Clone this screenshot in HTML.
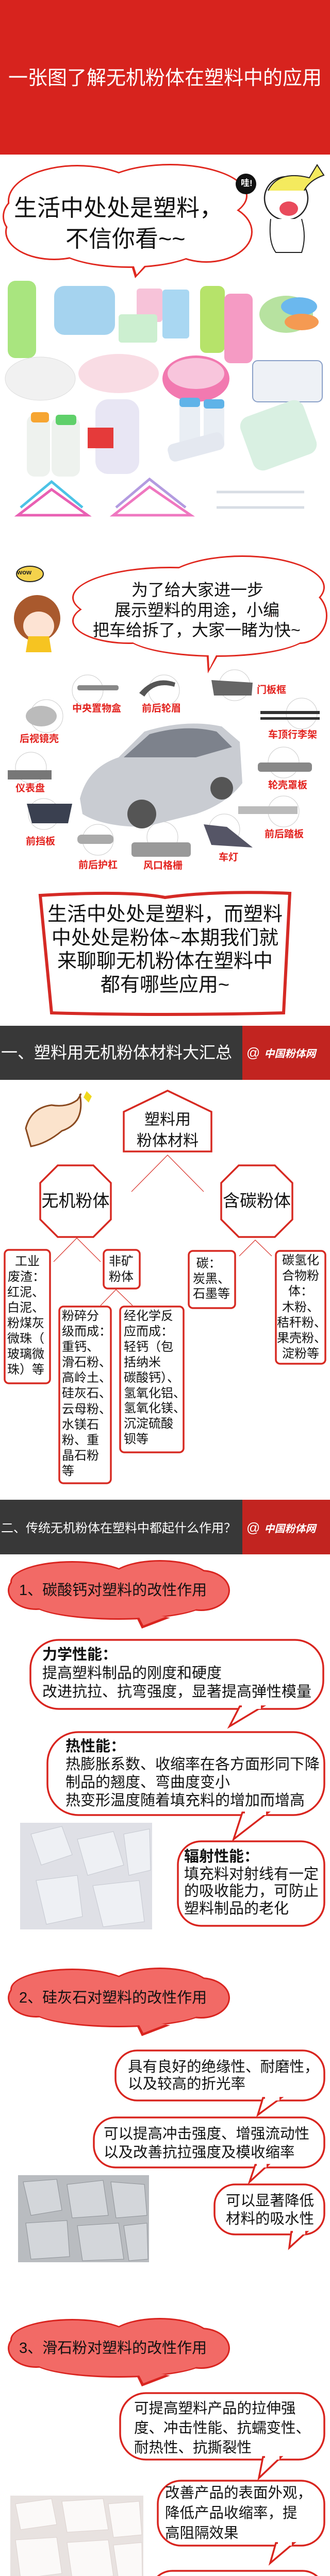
<!DOCTYPE html>
<html><head><meta charset="utf-8">
<style>
*{margin:0;padding:0;box-sizing:border-box}
html{width:640px;height:5161px;overflow:hidden}
body{width:640px;height:5161px;position:relative;background:#fff;overflow:hidden;font-family:"Liberation Sans","Noto Sans CJK SC",sans-serif;color:#111}
.t{position:absolute;white-space:nowrap}
svg{position:absolute;left:0;top:0}
.lbl{position:absolute;white-space:nowrap;color:#e3231f;font-weight:bold;font-size:19px;line-height:22px}
</style></head><body>
<svg width="640" height="5161" viewBox="0 0 640 5161">
<rect x="0" y="0" width="640" height="300" fill="#d7231e"/>
<g fill="#e0281f">
<ellipse cx="150" cy="390" rx="135" ry="70"/><ellipse cx="330" cy="380" rx="150" ry="62"/><ellipse cx="105" cy="450" rx="95" ry="55"/><ellipse cx="250" cy="470" rx="150" ry="50"/><ellipse cx="400" cy="450" rx="90" ry="60"/><ellipse cx="60" cy="420" rx="55" ry="45"/>
<polygon points="250,500 300,500 262,540"/>
</g>
<g fill="#fff">
<ellipse cx="150" cy="390" rx="132" ry="67"/><ellipse cx="330" cy="380" rx="147" ry="59"/><ellipse cx="105" cy="450" rx="92" ry="52"/><ellipse cx="250" cy="470" rx="147" ry="47"/><ellipse cx="400" cy="450" rx="87" ry="57"/><ellipse cx="60" cy="420" rx="52" ry="42"/>
<polygon points="254,498 296,498 265,533"/>
</g>
<circle cx="477" cy="357" r="20" fill="#111"/>
<circle cx="555" cy="385" r="42" fill="#fff" stroke="#222" stroke-width="2.5"/>
<path d="M520 370 Q540 330 600 345 L615 320 L628 340 Q600 350 590 370" fill="#f4ea5e" stroke="#222" stroke-width="2"/>
<ellipse cx="560" cy="405" rx="18" ry="14" fill="#e94b5c"/>
<path d="M525 425 Q520 470 535 490 L585 490 Q595 460 585 425" fill="#fff" stroke="#222" stroke-width="2"/>
<rect x="15" y="545" width="55" height="150" rx="15" fill="#a9e57f"/>
<rect x="105" y="555" width="118" height="95" rx="20" fill="#a5d3ef"/>
<rect x="265" y="560" width="50" height="65" rx="6" fill="#f7c3d9"/>
<rect x="315" y="562" width="52" height="95" rx="6" fill="#a9d7f2"/>
<rect x="230" y="610" width="75" height="55" rx="6" fill="#ccefd0"/>
<rect x="388" y="555" width="48" height="130" rx="12" fill="#b6e36a"/>
<rect x="435" y="570" width="55" height="135" rx="12" fill="#f59bc4"/>
<ellipse cx="555" cy="610" rx="52" ry="36" fill="#b7e2a0"/><ellipse cx="580" cy="595" rx="35" ry="18" fill="#6bb8ee"/><ellipse cx="585" cy="625" rx="33" ry="16" fill="#f59a52"/>
<ellipse cx="78" cy="735" rx="68" ry="42" fill="#f1f1f1" stroke="#ddd"/>
<ellipse cx="230" cy="725" rx="78" ry="38" fill="#f9dce4"/>
<ellipse cx="380" cy="735" rx="65" ry="45" fill="#f279b0"/><ellipse cx="380" cy="725" rx="55" ry="30" fill="#f8c5dc"/>
<rect x="490" y="700" width="135" height="80" rx="10" fill="#eef1f6" stroke="#8aa0c8" stroke-width="2"/>
<rect x="52" y="805" width="45" height="120" rx="15" fill="#eef2ee"/><rect x="100" y="810" width="55" height="115" rx="15" fill="#eef2ee"/>
<rect x="60" y="800" width="35" height="20" rx="6" fill="#f6a531"/><rect x="108" y="805" width="40" height="20" rx="6" fill="#5fd06a"/>
<rect x="185" y="775" width="85" height="145" rx="25" fill="#e8e6f4"/><rect x="170" y="830" width="50" height="40" fill="#e53a3a"/>
<rect x="348" y="775" width="40" height="95" rx="10" fill="#e9eef4"/><rect x="395" y="775" width="40" height="95" rx="10" fill="#e9eef4"/>
<rect x="348" y="772" width="40" height="18" rx="6" fill="#5fb3e8"/><rect x="395" y="775" width="40" height="18" rx="6" fill="#5fb3e8"/>
<rect x="325" y="850" width="110" height="35" rx="12" fill="#e4e8f0" transform="rotate(-15 380 867)"/>
<rect x="475" y="790" width="130" height="110" rx="20" fill="#d9f0e2" transform="rotate(-20 540 845)"/>
<g fill="none" stroke-width="5">
<path d="M35 1000 L100 950 L170 1000 Z" stroke="#e960b3"/><path d="M40 985 L100 935 L160 985" stroke="#4cc3e6"/>
<path d="M220 1000 L290 945 L370 1000 Z" stroke="#ef77c0"/><path d="M225 985 L290 930 L360 985" stroke="#b39be0"/>
<path d="M420 955 L590 955 M420 985 L590 985" stroke="#d8dde4"/>
</g>
<g fill="#e0281f">
<ellipse cx="330" cy="1160" rx="190" ry="60"/><ellipse cx="470" cy="1140" rx="160" ry="62"/><ellipse cx="250" cy="1205" rx="110" ry="45"/><ellipse cx="420" cy="1230" rx="180" ry="45"/><ellipse cx="580" cy="1195" rx="55" ry="55"/>
<polygon points="400,1260 430,1260 403,1307"/>
</g>
<g fill="#fff">
<ellipse cx="330" cy="1160" rx="187" ry="57"/><ellipse cx="470" cy="1140" rx="157" ry="59"/><ellipse cx="250" cy="1205" rx="107" ry="42"/><ellipse cx="420" cy="1230" rx="177" ry="42"/><ellipse cx="580" cy="1195" rx="52" ry="52"/>
<polygon points="404,1258 426,1258 406,1298"/>
</g>
<ellipse cx="58" cy="1114" rx="26" ry="15" fill="#f4d24c" stroke="#222" stroke-width="2"/>
<circle cx="72" cy="1200" r="45" fill="#a9592d"/>
<ellipse cx="75" cy="1215" rx="30" ry="28" fill="#fde3d3"/>
<path d="M55 1235 L95 1235 L100 1266 L50 1266Z" fill="#f6c421"/>
<g fill="none" stroke="#ccc" stroke-width="1">
<circle cx="170" cy="1340" r="30"/><circle cx="318" cy="1340" r="30"/><circle cx="455" cy="1330" r="30"/><circle cx="90" cy="1390" r="32"/><circle cx="585" cy="1385" r="30"/><circle cx="60" cy="1490" r="30"/><circle cx="550" cy="1480" r="30"/><circle cx="85" cy="1580" r="30"/><circle cx="550" cy="1575" r="30"/><circle cx="190" cy="1630" r="30"/><circle cx="315" cy="1625" r="30"/><circle cx="435" cy="1610" r="30"/>
</g>
<g fill="#555">
<rect x="150" y="1330" width="80" height="10" rx="4" fill="#888"/>
<path d="M270 1345 Q300 1310 340 1325 L338 1333 Q300 1322 280 1352Z"/>
<path d="M410 1320 L490 1325 L488 1350 L415 1350Z" fill="#666"/>
<ellipse cx="80" cy="1390" rx="30" ry="20" fill="#bbb"/>
<rect x="505" y="1380" width="115" height="6" fill="#333"/><rect x="505" y="1392" width="115" height="5" fill="#333"/>
<rect x="15" y="1495" width="85" height="18" fill="#777"/>
<rect x="500" y="1480" width="105" height="18" rx="6" fill="#888"/>
<path d="M52 1560 L140 1560 L132 1598 L62 1598Z" fill="#3a4050"/>
<rect x="462" y="1565" width="115" height="15" fill="#bbb"/>
<rect x="150" y="1620" width="70" height="18" rx="8" fill="#aaa"/>
<rect x="255" y="1635" width="115" height="28" rx="6" fill="#999"/>
<path d="M395 1600 L440 1605 L490 1645 L410 1640Z" fill="#556"/>
</g>
<path d="M155 1550 Q170 1490 230 1470 L280 1420 Q360 1395 430 1410 L465 1440 L470 1520 Q440 1560 380 1580 L280 1605 Q200 1605 160 1580Z" fill="#c9ccd2"/>
<path d="M240 1470 L290 1425 Q360 1405 420 1420 L450 1450 L380 1470Z" fill="#7d828c"/>
<circle cx="275" cy="1580" r="28" fill="#555"/><circle cx="430" cy="1530" r="22" fill="#555"/>
<path d="M78 1738 Q250 1728 320 1742 Q420 1728 562 1734 L550 1966 Q320 1972 100 1966 Z" fill="#fff" stroke="#d52a25" stroke-width="6"/>
<rect x="0" y="1991" width="470" height="105" fill="#383838"/>
<rect x="470" y="1991" width="170" height="105" fill="#c22420"/>
<path d="M50 2190 Q60 2150 100 2145 Q130 2150 150 2135 Q160 2120 155 2125 Q165 2180 120 2195 Q90 2220 60 2225 Z" fill="#fbe3cc" stroke="#8a4a20" stroke-width="3"/>
<polygon points="168,2118 178,2128 172,2140 162,2130" fill="#f0d81c"/>
<g fill="#fff" stroke="#d72a22" stroke-width="3.5">
<polygon points="240,2158 325,2117 410,2158 410,2235 240,2235"/>
<polygon points="112,2262 181,2262 215,2296 215,2367 181,2401 112,2401 78,2367 78,2296"/>
<polygon points="463,2262 533,2262 567,2296 567,2367 533,2401 463,2401 429,2367 429,2296"/>
<rect x="9" y="2426" width="88" height="259" rx="8"/>
<rect x="201" y="2426" width="70" height="75" rx="8"/>
<rect x="115" y="2536" width="100" height="343" rx="8"/>
<rect x="233" y="2536" width="123" height="283" rx="8"/>
<rect x="366" y="2428" width="90" height="111" rx="8"/>
<rect x="535" y="2428" width="96" height="219" rx="8"/>
</g>
<g stroke="#d72a22" stroke-width="1.2" fill="none">
<path d="M255 2313 L325 2242 L395 2313"/>
<path d="M104 2449 L149 2403 L195 2449"/>
<path d="M195 2534 L225 2503 L257 2534"/>
<path d="M464 2438 L495 2407 L527 2438"/>
</g>
<rect x="0" y="2911" width="470" height="106" fill="#383838"/>
<rect x="470" y="2911" width="170" height="106" fill="#c22420"/>
<g id="c1">
<g fill="#d9241f">
<ellipse cx="140" cy="3070" rx="120" ry="40"/><ellipse cx="310" cy="3068" rx="100" ry="40"/><ellipse cx="70" cy="3087" rx="55" ry="38"/><ellipse cx="390" cy="3087" rx="56" ry="40"/><ellipse cx="230" cy="3110" rx="170" ry="34"/>
<polygon points="260,3130 275,3161 330,3140"/>
</g>
<g fill="#f26a66">
<ellipse cx="140" cy="3070" rx="117" ry="37"/><ellipse cx="310" cy="3068" rx="97" ry="37"/><ellipse cx="70" cy="3087" rx="52" ry="35"/><ellipse cx="390" cy="3087" rx="53" ry="37"/><ellipse cx="230" cy="3110" rx="167" ry="31"/>
<polygon points="265,3130 278,3155 322,3138"/>
</g>
</g>
<use href="#c1" transform="translate(0,791)"/>
<use href="#c1" transform="translate(0,1471)"/>
<rect x="39" y="3538" width="256" height="207" fill="#dfe0e6"/>
<g fill="#eef0f4" stroke="#c5c8d0"><polygon points="60,3560 120,3545 140,3600 80,3620"/><polygon points="150,3570 220,3555 240,3620 170,3640"/><polygon points="70,3650 150,3640 160,3720 90,3735"/><polygon points="180,3660 270,3650 280,3730 200,3740"/><polygon points="240,3560 290,3550 292,3630 250,3640"/></g>
<rect x="35" y="4222" width="254" height="169" fill="#b9bcc0"/>
<g fill="#d3d6da" stroke="#8f9398"><polygon points="45,4235 110,4230 120,4290 60,4300"/><polygon points="130,4240 200,4232 210,4300 140,4305"/><polygon points="215,4235 280,4240 285,4300 225,4305"/><polygon points="50,4315 130,4310 135,4380 60,4385"/><polygon points="150,4320 230,4315 240,4385 160,4388"/><polygon points="240,4320 285,4315 287,4385 250,4388"/></g>
<rect x="20" y="4844" width="258" height="172" fill="#e8e2e0"/>
<g fill="#fbf9f8" stroke="#ddd3d0"><polygon points="30,4860 100,4850 110,4900 40,4910"/><polygon points="120,4855 200,4850 210,4910 130,4915"/><polygon points="210,4860 270,4855 275,4920 220,4925"/><polygon points="30,4930 110,4925 120,4995 40,5005"/><polygon points="130,4935 210,4930 220,5000 140,5005"/><polygon points="220,4940 275,4935 276,5005 230,5008"/></g>
<g fill="#fff" stroke="#d9251f" stroke-width="3.5">
<rect x="59" y="3183" width="568" height="134" rx="55"/>
<polygon points="465,3312 445,3351 510,3312"/>
<rect x="92" y="3362" width="537" height="161" rx="60"/>
<polygon points="470,3518 453,3570 520,3518"/>
<rect x="345" y="3574" width="284" height="164" rx="45"/>
<rect x="224" y="3980" width="405" height="97" rx="42"/>
<polygon points="510,4072 500,4105 545,4072"/>
<rect x="182" y="4110" width="447" height="97" rx="42"/>
<polygon points="495,4202 484,4235 520,4202"/>
<rect x="416" y="4240" width="213" height="97" rx="40"/>
<polygon points="565,4332 561,4363 595,4332"/>
<rect x="233" y="4645" width="396" height="129" rx="50"/>
<polygon points="510,4769 502,4810 545,4769"/>
<rect x="306" y="4815" width="323" height="126" rx="45"/>
<polygon points="535,4936 524,4975 570,4936"/>
<rect x="292" y="4990" width="337" height="92" rx="42"/>
<polygon points="530,5077 520,5109 565,5077"/>
</g>
<g fill="#fff">
<rect x="469" y="3305" width="37" height="12"/><rect x="475" y="3512" width="41" height="11"/>
<rect x="514" y="4066" width="28" height="11"/><rect x="498" y="4196" width="19" height="11"/>
<rect x="568" y="4326" width="24" height="11"/><rect x="514" y="4762" width="28" height="12"/>
<rect x="539" y="4930" width="27" height="11"/><rect x="534" y="5071" width="28" height="11"/>
</g>
</svg>

<div class="t" style="left:0;width:640px;text-align:center;top:130px;font-size:38px;line-height:44px;color:#fff">一张图了解无机粉体在塑料中的应用</div>
<div class="t" style="left:27px;top:378px;font-size:45px;line-height:52px">生活中处处是塑料，</div>
<div class="t" style="left:127px;top:438px;font-size:45px;line-height:52px">不信你看~~</div>
<div class="t" style="left:467px;top:345px;font-size:17px;font-weight:bold;color:#fff;line-height:22px">哇!</div>
<div class="t" style="left:33px;top:1103px;font-size:13px;font-weight:bold;line-height:16px;color:#222">wow</div>
<div class="t" style="left:255px;top:1127px;font-size:32px;line-height:36px">为了给大家进一步</div>
<div class="t" style="left:222px;top:1166px;font-size:32px;line-height:36px">展示塑料的用途，小编</div>
<div class="t" style="left:180px;top:1205px;font-size:32px;line-height:36px">把车给拆了，大家一睹为快~</div>
<div class="lbl" style="left:140px;top:1365px">中央置物盒</div>
<div class="lbl" style="left:275px;top:1365px">前后轮眉</div>
<div class="lbl" style="left:498px;top:1329px">门板框</div>
<div class="lbl" style="left:38px;top:1424px">后视镜壳</div>
<div class="lbl" style="left:520px;top:1416px">车顶行李架</div>
<div class="lbl" style="left:30px;top:1520px">仪表盘</div>
<div class="lbl" style="left:520px;top:1514px">轮壳罩板</div>
<div class="lbl" style="left:50px;top:1623px">前挡板</div>
<div class="lbl" style="left:513px;top:1609px">前后踏板</div>
<div class="lbl" style="left:152px;top:1669px">前后护杠</div>
<div class="lbl" style="left:278px;top:1670px">风口格栅</div>
<div class="lbl" style="left:424px;top:1654px">车灯</div>
<div class="t" style="left:70px;width:500px;text-align:center;top:1753px;font-size:38px;line-height:45.7px">生活中处处是塑料，而塑料<br>中处处是粉体~本期我们就<br>来聊聊无机粉体在塑料中<br>都有哪些应用~</div>
<div class="t" style="left:2px;top:2025px;font-size:32px;line-height:36px;color:#fff">一、塑料用无机粉体材料大汇总</div>
<div class="t" style="left:478px;top:2028px;font-size:26px;line-height:30px;color:#fff">@<span style="font-size:20px;font-weight:bold;font-style:italic;margin-left:8px">中国粉体网</span></div>
<div class="t" style="left:240px;width:170px;text-align:center;top:2153px;font-size:30px;line-height:41px">塑料用<br>粉体材料</div>
<div class="t" style="left:78px;width:137px;text-align:center;top:2312px;font-size:33px;line-height:38px">无机粉体</div>
<div class="t" style="left:429px;width:138px;text-align:center;top:2312px;font-size:33px;line-height:38px">含碳粉体</div>
<div class="t" style="left:15px;top:2434px;font-size:24px;line-height:30.1px;text-align:center;width:76px">工业<br><span style="margin-left:-4px">废渣：</span></div>
<div class="t" style="left:14px;top:2494px;font-size:24px;line-height:30.1px">红泥、<br>白泥、<br>粉煤灰<br>微珠（<br>玻璃微<br>珠）等</div>
<div class="t" style="left:211px;top:2434px;font-size:24px;line-height:29.5px">非矿<br>粉体</div>
<div class="t" style="left:120px;top:2540px;font-size:24px;line-height:30.1px">粉碎分<br>级而成：<br>重钙、<br>滑石粉、<br>高岭土、<br>硅灰石、<br>云母粉、<br>水镁石<br>粉、重<br>晶石粉<br>等</div>
<div class="t" style="left:240px;top:2540px;font-size:24px;line-height:29.9px">经化学反<br>应而成：<br>轻钙（包<br>括纳米<br>碳酸钙）、<br>氢氧化铝、<br>氢氧化镁、<br>沉淀硫酸<br>钡等</div>
<div class="t" style="left:374px;top:2438px;font-size:24px;line-height:29.5px">&nbsp;碳：<br>炭黑、<br>石墨等</div>
<div class="t" style="left:537px;width:92px;text-align:center;top:2432px;font-size:24px;line-height:30.2px">碳氢化<br>合物粉<br>体：<br>木粉、<br>秸秆粉、<br>果壳粉、<br>淀粉等</div>
<div class="t" style="left:2px;top:2953px;font-size:24px;line-height:28px;color:#fff">二、传统无机粉体在塑料中都起什么作用？</div>
<div class="t" style="left:478px;top:2950px;font-size:26px;line-height:30px;color:#fff">@<span style="font-size:20px;font-weight:bold;font-style:italic;margin-left:8px">中国粉体网</span></div>
<div class="t" style="left:37px;top:3070px;font-size:29px;line-height:34px">1、碳酸钙对塑料的改性作用</div>
<div class="t" style="left:82px;top:3194px;font-size:29px;line-height:36px"><b>力学性能：</b><br>提高塑料制品的刚度和硬度<br>改进抗拉、抗弯强度，显著提高弹性模量</div>
<div class="t" style="left:127px;top:3373px;font-size:29px;line-height:35px"><b>热性能：</b><br>热膨胀系数、收缩率在各方面形同下降<br>制品的翘度、弯曲度变小<br>热变形温度随着填充料的增加而增高</div>
<div class="t" style="left:357px;top:3588px;font-size:29px;line-height:33.5px"><b>辐射性能：</b><br>填充料对射线有一定<br>的吸收能力，可防止<br>塑料制品的老化</div>
<div class="t" style="left:37px;top:3861px;font-size:29px;line-height:34px">2、硅灰石对塑料的改性作用</div>
<div class="t" style="left:248px;top:3996px;font-size:28.5px;line-height:33px">具有良好的绝缘性、耐磨性，<br>以及较高的折光率</div>
<div class="t" style="left:201px;top:4124px;font-size:28.5px;line-height:36px">可以提高冲击强度、增强流动性<br>以及改善抗拉强度及模收缩率</div>
<div class="t" style="left:438px;top:4255px;font-size:28.5px;line-height:35px">可以显著降低<br>材料的吸水性</div>
<div class="t" style="left:37px;top:4541px;font-size:29px;line-height:34px">3、滑石粉对塑料的改性作用</div>
<div class="t" style="left:260px;top:4656px;font-size:28.5px;line-height:38px">可提高塑料产品的拉伸强<br>度、冲击性能、抗蠕变性、<br>耐热性、抗撕裂性</div>
<div class="t" style="left:320px;top:4820px;font-size:28.5px;line-height:39px">改善产品的表面外观，<br>降低产品收缩率，提<br>高阻隔效果</div>
<div class="t" style="left:306px;top:4998px;font-size:28.5px;line-height:37px">减少透气性，增加塑料<br>制品的刚性和挺括度</div>
</body></html>
